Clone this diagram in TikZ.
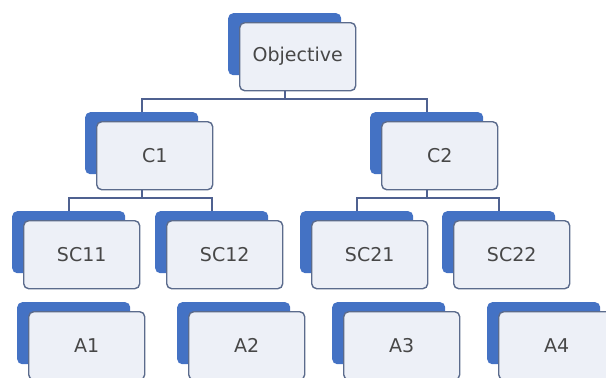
\documentclass[tikz,border=0pt]{standalone}
\usepackage{fontspec}
\setmainfont{DejaVu Sans}
\definecolor{cardblue}{HTML}{4472C4}
\definecolor{cardfill}{HTML}{EDF0F7}
\definecolor{cardedge}{HTML}{5B6B8C}
\definecolor{linkcol}{HTML}{4F6190}
\definecolor{labelgray}{HTML}{474747}
\tikzset{
  backcard/.style={fill=cardblue, draw=none, rounded corners=5pt, inner sep=0pt,
    minimum width=113pt, minimum height=62pt, anchor=north west},
  frontcard/.style={fill=cardfill, draw=cardedge, line width=1.4pt, rounded corners=5pt,
    inner sep=0pt, minimum width=116pt, minimum height=68pt, anchor=north west,
    xshift=11pt, yshift=-9pt, text=labelgray, font=\fontsize{19}{22}\selectfont},
  link/.style={draw=linkcol, line width=1.8pt}
}
% one card: a blue back plate with a light front plate carrying the label
\newcommand\drawcard[4]{%
  \node[backcard] (#1-b) at (#2,#3) {};
  \node[frontcard] (#1) at (#2,#3) {#4};
}
\begin{document}
\begin{tikzpicture}[x=1pt,y=-1pt]
  \useasboundingbox (0,0) rectangle (606,378);
  \clip (0,0) rectangle (606,378);

  % levels of the horizontal bus lines
  \coordinate (busTop) at (0,99);
  \coordinate (busLeft) at (0,198);
  \coordinate (busRight) at (0,198);

  \drawcard{obj}{228}{13}{Objective}
  \drawcard{c1}{85}{112}{C1}
  \drawcard{c2}{370}{112}{C2}
  \drawcard{sc11}{12}{211}{SC11}
  \drawcard{sc12}{155}{211}{SC12}
  \drawcard{sc21}{300}{211}{SC21}
  \drawcard{sc22}{442}{211}{SC22}
  \drawcard{a1}{17}{302}{A1}
  \drawcard{a2}{177}{302}{A2}
  \drawcard{a3}{332}{302}{A3}
  \drawcard{a4}{487}{302}{A4}

  % tree connectors between the cards
  \draw[link] (obj-b |- obj.south) -- (obj-b |- busTop) -| (c1-b.north);
  \draw[link] (obj-b |- busTop) -| (c2-b.north);
  \draw[link] (c1-b |- c1.south) -- (c1-b |- busLeft) -| (sc11-b.north);
  \draw[link] (c1-b |- busLeft) -| (sc12-b.north);
  \draw[link] (c2-b |- c2.south) -- (c2-b |- busRight) -| (sc21-b.north);
  \draw[link] (c2-b |- busRight) -| (sc22-b.north);
\end{tikzpicture}
\end{document}
